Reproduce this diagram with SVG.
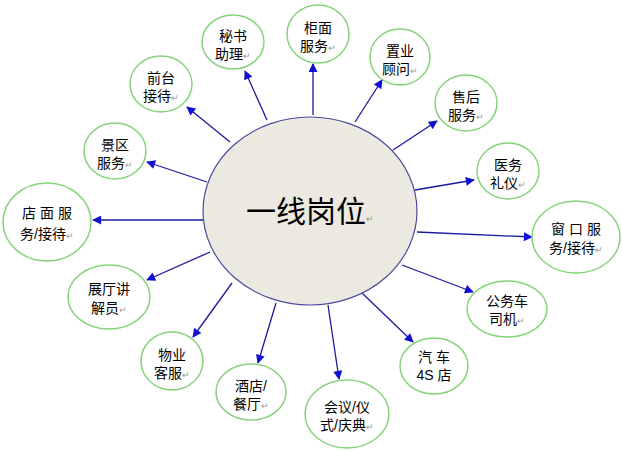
<svg xmlns="http://www.w3.org/2000/svg" width="622" height="450" viewBox="0 0 622 450">
<style>
.n{fill:#fff;stroke:#86d47a;stroke-width:1.5}
.t{font-family:"Liberation Sans","Noto Sans CJK SC",sans-serif;font-size:14px;fill:#000;text-anchor:middle}
.r{fill:#999;font-size:9px}
.c line{stroke:#1a1aa0;stroke-width:1.3;marker-end:url(#a)}
</style>
<defs><marker id="a" viewBox="0 0 10 10" refX="9" refY="5" markerWidth="10" markerHeight="9" markerUnits="userSpaceOnUse" orient="auto"><path d="M0,0L10,5L0,10z" fill="#1010d0"/></marker></defs>
<rect width="622" height="450" fill="#fff"/>
<g class="c">
<line x1="267" y1="120" x2="245" y2="71"/>
<line x1="313" y1="115" x2="313" y2="64"/>
<line x1="355" y1="122" x2="382" y2="80"/>
<line x1="393" y1="150" x2="437" y2="121"/>
<line x1="415" y1="190" x2="474" y2="180"/>
<line x1="417" y1="232" x2="532" y2="237"/>
<line x1="402" y1="265" x2="473" y2="292"/>
<line x1="362" y1="293" x2="413" y2="342"/>
<line x1="328" y1="305" x2="339" y2="379"/>
<line x1="276" y1="303" x2="258" y2="363"/>
<line x1="232" y1="283" x2="193" y2="337"/>
<line x1="210" y1="252" x2="147" y2="280"/>
<line x1="203" y1="220" x2="93" y2="220"/>
<line x1="207" y1="182" x2="147" y2="162"/>
<line x1="230" y1="142" x2="187" y2="107"/>
</g>
<g id="center"><ellipse cx="310" cy="211" rx="107" ry="94" fill="#ece9e0" stroke="#4a4aa0" stroke-width="1.2"/>
<text x="310" y="222" class="t" style="font-size:30px">一线岗位<tspan class="r">↵</tspan></text></g>
<g id="n1"><ellipse class="n" cx="233" cy="42" rx="31" ry="27"/><text class="t" x="233" y="41">秘书</text><text class="t" x="233" y="59">助理<tspan class="r">↵</tspan></text></g>
<g id="n2"><ellipse class="n" cx="318" cy="34" rx="31" ry="29"/><text class="t" x="318" y="33">柜面</text><text class="t" x="318" y="51">服务<tspan class="r">↵</tspan></text></g>
<g id="n3"><ellipse class="n" cx="400" cy="57" rx="30" ry="28"/><text class="t" x="400" y="56">置业</text><text class="t" x="400" y="74">顾问<tspan class="r">↵</tspan></text></g>
<g id="n4"><ellipse class="n" cx="466" cy="103" rx="31" ry="28"/><text class="t" x="466" y="102">售后</text><text class="t" x="466" y="120">服务<tspan class="r">↵</tspan></text></g>
<g id="n5"><ellipse class="n" cx="508" cy="171" rx="31" ry="28"/><text class="t" x="508" y="170">医务</text><text class="t" x="508" y="188">礼仪<tspan class="r">↵</tspan></text></g>
<g id="n6"><ellipse class="n" cx="576" cy="237" rx="44" ry="36"/><text class="t" x="576" y="234">窗 口 服</text><text class="t" x="576" y="253">务/接待<tspan class="r">↵</tspan></text></g>
<g id="n7"><ellipse class="n" cx="507" cy="309" rx="40" ry="28"/><text class="t" x="507" y="306">公务车</text><text class="t" x="507" y="324">司机<tspan class="r">↵</tspan></text></g>
<g id="n8"><ellipse class="n" cx="434" cy="366" rx="34" ry="28"/><text class="t" x="434" y="362">汽 车</text><text class="t" x="434" y="380">4S 店</text></g>
<g id="n9"><ellipse class="n" cx="347" cy="414" rx="42" ry="34"/><text class="t" x="347" y="412">会议/仪</text><text class="t" x="347" y="430">式/庆典<tspan class="r">↵</tspan></text></g>
<g id="n10"><ellipse class="n" cx="251" cy="392" rx="35" ry="28"/><text class="t" x="251" y="391">酒店/</text><text class="t" x="251" y="409">餐厅<tspan class="r">↵</tspan></text></g>
<g id="n11"><ellipse class="n" cx="172" cy="361" rx="31" ry="29"/><text class="t" x="172" y="360">物业</text><text class="t" x="172" y="378">客服<tspan class="r">↵</tspan></text></g>
<g id="n12"><ellipse class="n" cx="109" cy="297" rx="41" ry="32"/><text class="t" x="109" y="294">展厅讲</text><text class="t" x="109" y="313">解员<tspan class="r">↵</tspan></text></g>
<g id="n13"><ellipse class="n" cx="47" cy="222" rx="44" ry="39"/><text class="t" x="47" y="218">店 面 服</text><text class="t" x="47" y="239">务/接待<tspan class="r">↵</tspan></text></g>
<g id="n14"><ellipse class="n" cx="115" cy="151" rx="31" ry="28"/><text class="t" x="115" y="150">景区</text><text class="t" x="115" y="168">服务<tspan class="r">↵</tspan></text></g>
<g id="n15"><ellipse class="n" cx="161" cy="84" rx="31" ry="28"/><text class="t" x="161" y="83">前台</text><text class="t" x="161" y="101">接待<tspan class="r">↵</tspan></text></g>
</svg>
